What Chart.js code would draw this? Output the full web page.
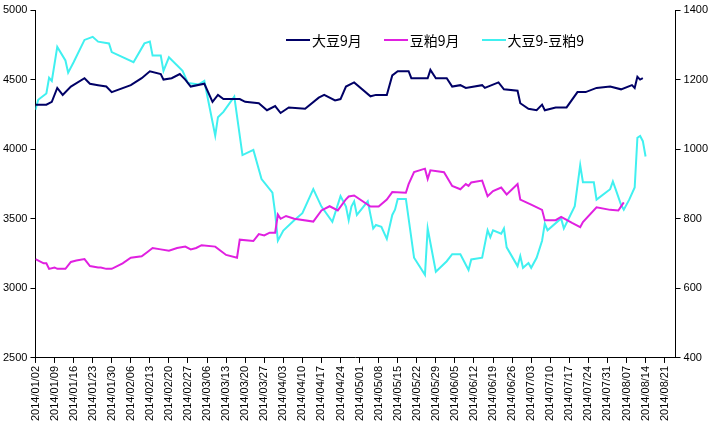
<!DOCTYPE html>
<html><head><meta charset="utf-8">
<script src="https://cdn.jsdelivr.net/npm/chart.js@4/dist/chart.umd.min.js"></script>
<style>
body{margin:0;background:#fff;font-family:"Liberation Sans",Arial,sans-serif}
#wrap{position:relative;width:713px;height:430px}
#legend{position:absolute;top:30px;left:286px;font-size:14px;display:flex;gap:22px;font-family:"Noto Sans CJK SC",sans-serif}
#legend span{display:inline-flex;align-items:center}
#legend i{display:inline-block;width:24px;height:2px;margin-right:2px}
</style></head>
<body><div id="wrap"><canvas id="c" width="713" height="430"></canvas>
<div id="legend"><span><i style="background:#000066"></i>大豆9月</span><span><i style="background:#e020e0"></i>豆粕9月</span><span><i style="background:#40f0f0"></i>大豆9-豆粕9</span></div></div>
<script>
// day offsets from 2014/01/02
const soyDays = [0,4,6,8,10,13,18,20,23,26,28,35,39,42,46,47,50,53,55,57,62,65,67,69,75,77,82,85,88,90,93,99,104,106,110,112,114,117,123,125,129,131,133,137,138,144,145,147,151,153,156,158,164,165,170,172,177,178,181,184,186,187,191,195,199,202,206,211,215,219,220,221,222,223];
const soyVals = [4320,4320,4340,4440,4390,4450,4510,4470,4460,4450,4410,4460,4510,4560,4540,4500,4510,4540,4500,4450,4470,4340,4390,4360,4360,4340,4330,4280,4310,4260,4300,4290,4370,4390,4350,4360,4450,4480,4380,4390,4390,4530,4560,4560,4510,4510,4570,4510,4510,4450,4460,4440,4460,4440,4480,4430,4420,4330,4290,4280,4320,4280,4300,4300,4410,4410,4440,4450,4430,4460,4440,4520,4500,4510];

const mealDays = [0,3,4,5,7,8,11,13,15,18,20,23,24,26,28,32,35,39,41,43,46,49,52,55,57,59,61,66,70,74,75,80,82,84,86,88,89,90,92,95,102,105,108,111,114,115,117,123,126,129,131,136,137,139,143,144,145,150,153,156,158,159,160,164,166,168,171,173,177,178,182,186,187,191,193,197,200,201,206,211,214,216];
const mealVals = [3210,3180,3180,3140,3150,3140,3140,3190,3200,3210,3160,3150,3150,3140,3140,3180,3220,3230,3260,3290,3280,3270,3290,3300,3280,3290,3310,3300,3240,3220,3350,3340,3390,3380,3400,3400,3530,3500,3520,3500,3480,3560,3590,3560,3640,3660,3667,3588,3588,3638,3692,3687,3749,3835,3860,3786,3848,3835,3736,3712,3749,3736,3761,3774,3662,3699,3724,3675,3749,3638,3601,3564,3490,3490,3514,3470,3440,3477,3583,3564,3559,3618];

const spreadDays = [0,1,4,5,6,8,11,12,14,18,21,23,27,28,36,40,42,43,46,47,49,54,56,60,62,66,67,69,73,76,80,83,87,88,89,91,95,98,102,105,109,112,114,115,116,117,118,122,124,125,127,129,131,132,133,136,139,143,144,147,151,153,156,159,160,164,166,167,168,171,172,173,177,178,179,181,182,184,186,187,188,193,194,198,200,201,205,206,211,212,213,215,216,218,220,221,222,223,224];
const spreadVals = [1113,1142,1160,1205,1196,1294,1255,1220,1250,1314,1323,1309,1304,1279,1250,1304,1309,1269,1269,1225,1264,1225,1190,1186,1196,1039,1092,1107,1151,983,998,914,875,816,737,766,796,816,885,835,791,865,835,796,835,850,811,850,772,782,777,742,811,826,857,857,688,639,772,648,678,698,698,653,683,688,767,747,767,757,772,718,664,693,659,673,659,688,737,786,767,801,772,836,954,905,905,855,885,907,885,840,826,855,890,1033,1038,1023,979];

const pts = (d, v) => d.map((x, i) => ({x: x, y: v[i]}));
const fmt = v => {
  const t = new Date(2014, 0, 2 + v);
  return t.getFullYear() + '/' + String(t.getMonth() + 1).padStart(2, '0') + '/' + String(t.getDate()).padStart(2, '0');
};
const tickFont = {family: '"Liberation Sans", Arial, sans-serif', size: 11};
const weekTicks = [];
for (let d = 0; d <= 231; d += 7) weekTicks.push({value: d});

new Chart(document.getElementById('c'), {
  type: 'line',
  data: {datasets: [
    {label: '大豆9月', data: pts(soyDays, soyVals), borderColor: '#000066', yAxisID: 'y', borderWidth: 2, pointRadius: 0, tension: 0},
    {label: '豆粕9月', data: pts(mealDays, mealVals), borderColor: '#e020e0', yAxisID: 'y', borderWidth: 2, pointRadius: 0, tension: 0},
    {label: '大豆9-豆粕9', data: pts(spreadDays, spreadVals), borderColor: '#40f0f0', yAxisID: 'y1', borderWidth: 2, pointRadius: 0, tension: 0}
  ]},
  options: {
    responsive: false, animation: false,
    layout: {padding: {top: 10, right: 2, left: 0, bottom: 6}},
    plugins: {legend: {display: false}, tooltip: {enabled: false}},
    scales: {
      x: {type: 'linear', min: 0, max: 235,
        afterBuildTicks: ax => { ax.ticks = weekTicks.map(t => ({value: t.value})); },
        ticks: {autoSkip: false, minRotation: 90, maxRotation: 90, color: '#000', font: tickFont, callback: v => fmt(v)},
        grid: {drawOnChartArea: false, tickLength: 5, color: '#000'}, border: {color: '#000'}},
      y: {position: 'left', min: 2500, max: 5000,
        ticks: {stepSize: 500, color: '#000', font: tickFont, callback: v => String(v)},
        grid: {drawOnChartArea: false, tickLength: 5, color: '#000'}, border: {color: '#000'}},
      y1: {position: 'right', min: 400, max: 1400,
        ticks: {stepSize: 200, color: '#000', font: tickFont, callback: v => String(v)},
        grid: {drawOnChartArea: false, tickLength: 5, color: '#000'}, border: {color: '#000'}}
    }
  }
});
</script></body></html>
